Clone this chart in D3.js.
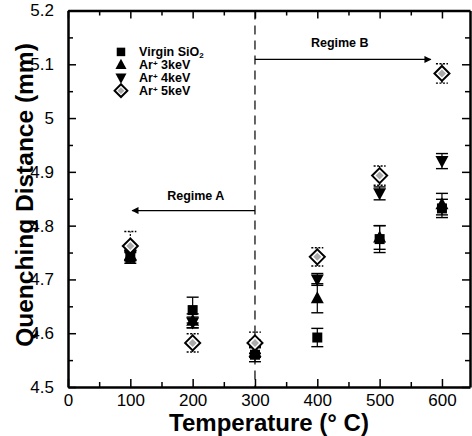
<!DOCTYPE html>
<html>
<head>
<meta charset="utf-8">
<script src="https://cdn.jsdelivr.net/npm/d3@7"></script>
<style>
  body { margin: 0; background: #fff; }
  svg { display: block; font-family: "Liberation Sans", Arial, sans-serif; }
  .tick text { font-size: 17px; fill: #000; }
  .tick line { stroke: #000; stroke-width: 1.5; }
  .domain { stroke: #000; stroke-width: 2.5; }
</style>
</head>
<body>
<div id="chartDiv"></div>
<script>
'use strict';

// data
const temps = [100, 200, 300, 400, 500, 600];
const virgin    = [4.740, 4.643, 4.560, 4.592, 4.775, 4.832];
const virginErr = [0.010, 0.024, 0.013, 0.017, 0.025, 0.017];
const ar3    = [4.745, 4.623, 4.565, 4.665, 4.778, 4.840];
const ar3Err = [0.010, 0.013, 0.010, 0.027, 0.022, 0.020];
const ar4    = [4.745, 4.620, 4.575, 4.700, 4.860, 4.920];
const ar4Err = [0.008, 0.010, 0.012, 0.011, 0.012, 0.014];
const ar5    = [4.762, 4.582, 4.582, 4.742, 4.893, 5.083];
const ar5Err = [0.027, 0.017, 0.020, 0.017, 0.018, 0.018];

const xTicks = [0, 100, 200, 300, 400, 500, 600];
const yTicks = [4.5, 4.6, 4.7, 4.8, 4.9, 5.0, 5.1, 5.2];
const seriesMain = ["Virgin SiO", "Ar", "Ar", "Ar"];
const seriesSup  = ["", "+", "+", "+"];
const seriesSub  = ["2", "", "", ""];
const seriesTail = ["", " 3keV", " 4keV", " 5keV"];

const W = 472, H = 436;
const margin = { top: 10.5, right: 2, bottom: 49, left: 68 };
const width = W - margin.left - margin.right;
const height = H - margin.top - margin.bottom;

const svg = d3.select("#chartDiv").append("svg")
    .attr("width", W).attr("height", H);
const g = svg.append("g")
    .attr("transform", `translate(${margin.left},${margin.top})`);

const x = d3.scaleLinear().domain([0, 645]).range([0, width]);
const y = d3.scaleLinear().domain([4.5, 5.2]).range([height, 0]);

const fmtY = d => d === 5 ? "5" : d3.format(".1f")(d);

// minor ticks
const xMinor = d3.range(50, 645, 100);
const yMinor = d3.range(4.55, 5.2, 0.1);

// bottom axis
g.append("g").attr("transform", `translate(0,${height})`)
    .call(d3.axisBottom(x).tickValues(xTicks).tickSizeInner(-8).tickSizeOuter(0).tickPadding(7));
g.append("g").attr("transform", `translate(0,${height})`)
    .call(d3.axisBottom(x).tickValues(xMinor).tickSizeInner(-5).tickSizeOuter(0).tickFormat(""))
    .call(a => a.select(".domain").remove());
// top axis
g.append("g")
    .call(d3.axisTop(x).tickValues(xTicks).tickSizeInner(-8).tickSizeOuter(0).tickFormat(""));
g.append("g")
    .call(d3.axisTop(x).tickValues(xMinor).tickSizeInner(-5).tickSizeOuter(0).tickFormat(""))
    .call(a => a.select(".domain").remove());
// left axis
g.append("g")
    .call(d3.axisLeft(y).tickValues(yTicks).tickSizeInner(-8).tickSizeOuter(0).tickPadding(14).tickFormat(fmtY));
g.append("g")
    .call(d3.axisLeft(y).tickValues(yMinor).tickSizeInner(-5).tickSizeOuter(0).tickFormat(""))
    .call(a => a.select(".domain").remove());
// right axis
g.append("g").attr("transform", `translate(${width},0)`)
    .call(d3.axisRight(y).tickValues(yTicks).tickSizeInner(-8).tickSizeOuter(0).tickFormat(""));
g.append("g").attr("transform", `translate(${width},0)`)
    .call(d3.axisRight(y).tickValues(yMinor).tickSizeInner(-5).tickSizeOuter(0).tickFormat(""))
    .call(a => a.select(".domain").remove());

// dashed boundary between regimes
g.append("line")
    .attr("x1", x(300)).attr("x2", x(300))
    .attr("y1", 0).attr("y2", height)
    .attr("stroke", "#000").attr("stroke-width", 1.2)
    .attr("stroke-dasharray", "9,6");

// arrows
svg.append("defs").append("marker")
    .attr("id", "arrowHead")
    .attr("viewBox", "0 0 10 10").attr("refX", 9).attr("refY", 5)
    .attr("markerWidth", 12).attr("markerHeight", 7)
    .attr("markerUnits", "userSpaceOnUse")
    .attr("orient", "auto")
  .append("path").attr("d", "M0,0L10,5L0,10z").attr("fill", "#000");

g.append("line")
    .attr("x1", x(300)).attr("x2", x(103))
    .attr("y1", y(4.828)).attr("y2", y(4.828))
    .attr("stroke", "#000").attr("stroke-width", 1.3)
    .attr("marker-end", "url(#arrowHead)");
g.append("text")
    .attr("x", x(205)).attr("y", y(4.848))
    .attr("text-anchor", "middle")
    .style("font-size", "12.5px").style("font-weight", "bold")
    .text("Regime A");

g.append("line")
    .attr("x1", x(300)).attr("x2", x(582))
    .attr("y1", y(5.109)).attr("y2", y(5.109))
    .attr("stroke", "#000").attr("stroke-width", 1.3)
    .attr("marker-end", "url(#arrowHead)");
g.append("text")
    .attr("x", x(436)).attr("y", y(5.132))
    .attr("text-anchor", "middle")
    .style("font-size", "12.5px").style("font-weight", "bold")
    .text("Regime B");

// error bars + markers
const series = [
    { vals: virgin, err: virginErr, shape: "square" },
    { vals: ar3, err: ar3Err, shape: "tri" },
    { vals: ar4, err: ar4Err, shape: "triDown" },
    { vals: ar5, err: ar5Err, shape: "diamond" }
];

const drawMarker = (sel, shape, cx, cy, k) => {
    k = k || 1;
    if (shape === "square") {
        sel.append("rect").attr("x", cx - 5 * k).attr("y", cy - 5 * k)
            .attr("width", 10 * k).attr("height", 10 * k).attr("fill", "#000");
    } else if (shape === "tri") {
        sel.append("path")
            .attr("d", `M${cx},${cy - 7 * k}L${cx + 6.5 * k},${cy + 5 * k}L${cx - 6.5 * k},${cy + 5 * k}Z`)
            .attr("fill", "#000");
    } else if (shape === "triDown") {
        sel.append("path")
            .attr("d", `M${cx},${cy + 7 * k}L${cx + 6.5 * k},${cy - 5 * k}L${cx - 6.5 * k},${cy - 5 * k}Z`)
            .attr("fill", "#000");
    } else {
        const r = 7.5 * k, q = 4 * k;
        sel.append("path")
            .attr("d", `M${cx},${cy - r}L${cx + r},${cy}L${cx},${cy + r}L${cx - r},${cy}Z`)
            .attr("fill", "#fff").attr("stroke", "#000").attr("stroke-width", 2);
        sel.append("path")
            .attr("d", `M${cx},${cy - q}L${cx + q},${cy}L${cx},${cy + q}L${cx - q},${cy}Z`)
            .attr("fill", "#aaa");
    }
};

const errG = g.append("g");
series.forEach(s => {
    s.vals.forEach((v, i) => {
        const cx = x(temps[i]);
        const y0 = y(v - s.err[i]), y1 = y(v + s.err[i]);
        const dash = s.shape === "diamond" ? "2,1.5" : null;
        errG.append("line").attr("x1", cx).attr("x2", cx).attr("y1", y0).attr("y2", y1)
            .attr("stroke", "#000").attr("stroke-width", 1.2).attr("stroke-dasharray", dash);
        [y0, y1].forEach(yy => {
            errG.append("line").attr("x1", cx - 6).attr("x2", cx + 6).attr("y1", yy).attr("y2", yy)
                .attr("stroke", "#000").attr("stroke-width", 1.4).attr("stroke-dasharray", dash);
        });
    });
});
const markG = g.append("g");
series.forEach(s => {
    s.vals.forEach((v, i) => drawMarker(markG, s.shape, x(temps[i]), y(v)));
});

// legend
const legend = g.append("g");
const legendY = [5.123, 5.099, 5.075, 5.051];
series.forEach((s, i) => {
    const ly = y(legendY[i]);
    drawMarker(legend, s.shape, x(85), ly, 0.85);
    const t = legend.append("text")
        .attr("x", x(114)).attr("y", ly + 4.5)
        .style("font-size", "12.5px").style("font-weight", "bold");
    t.append("tspan").text(seriesMain[i]);
    if (seriesSub[i]) {
        t.append("tspan").attr("baseline-shift", "-25%").style("font-size", "8px").text(seriesSub[i]);
    }
    if (seriesSup[i]) {
        t.append("tspan").attr("baseline-shift", "40%").style("font-size", "8px").text(seriesSup[i]);
        t.append("tspan").text(seriesTail[i]);
    }
});

// axis titles
svg.append("text")
    .attr("x", 269).attr("y", 431)
    .attr("text-anchor", "middle")
    .style("font-size", "24px").style("font-weight", "bold")
    .text("Temperature (° C)");
svg.append("text")
    .attr("transform", "translate(33,195) rotate(-90)")
    .attr("text-anchor", "middle")
    .style("font-size", "24.5px").style("font-weight", "bold")
    .text("Quenching Distance (mm)");
</script>
</body>
</html>
